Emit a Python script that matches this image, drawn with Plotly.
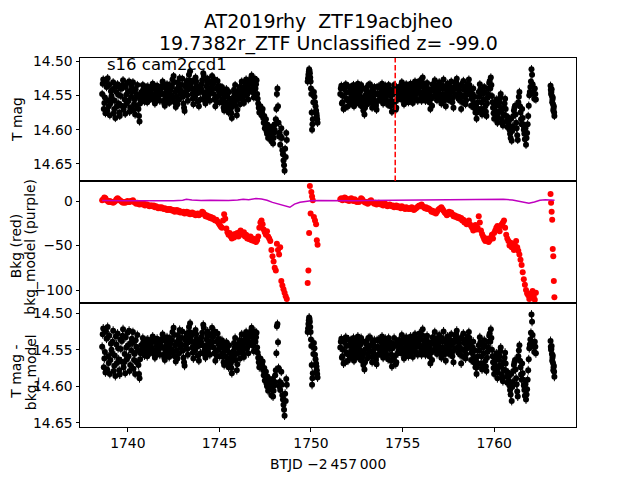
import plotly.graph_objects as go

# ---------------- data ----------------
# Orbit 1 cadences, set A (BTJD - 2457000)
T_ORB1 = [
    1738.60, 1738.66, 1738.72, 1738.78, 1738.84, 1738.90, 1738.96, 1739.02, 1739.08,
    1739.14, 1739.20, 1739.26, 1739.32, 1739.38, 1739.44, 1739.50, 1739.56, 1739.62,
    1739.68, 1739.74, 1739.80, 1739.86, 1739.92, 1739.98, 1740.04, 1740.10, 1740.16,
    1740.22, 1740.28, 1740.34, 1740.40, 1740.46, 1740.52, 1740.58, 1740.64, 1740.70,
    1740.76, 1740.82, 1740.88, 1740.94, 1741.00, 1741.06, 1741.12, 1741.18, 1741.24,
    1741.30, 1741.36, 1741.42, 1741.48, 1741.54, 1741.60, 1741.66, 1741.72, 1741.78,
    1741.84, 1741.90, 1741.96, 1742.02, 1742.08, 1742.14, 1742.20, 1742.26, 1742.32,
    1742.38, 1742.44, 1742.50, 1742.56, 1742.62, 1742.68, 1742.74, 1742.80, 1742.86,
    1742.92, 1742.98, 1743.04, 1743.10, 1743.16, 1743.22, 1743.28, 1743.34, 1743.40,
    1743.46, 1743.52, 1743.58, 1743.64, 1743.70, 1743.76, 1743.82, 1743.88, 1743.94,
    1744.00, 1744.06, 1744.12, 1744.18, 1744.24, 1744.30, 1744.36, 1744.42, 1744.48,
    1744.54, 1744.60, 1744.66, 1744.72, 1744.78, 1744.84, 1744.90, 1744.96, 1745.02,
    1745.08, 1745.14, 1745.20, 1745.26, 1745.32, 1745.38, 1745.44, 1745.50, 1745.56,
    1745.62, 1745.68, 1745.74, 1745.80, 1745.86, 1745.92, 1745.98, 1746.04, 1746.10,
    1746.16, 1746.22, 1746.28, 1746.34, 1746.40, 1746.46, 1746.52, 1746.58, 1746.64,
    1746.70, 1746.76, 1746.82, 1746.88, 1746.94, 1747.00, 1747.06, 1747.12, 1747.18,
    1747.24, 1747.30, 1747.36, 1747.42, 1747.48, 1747.54, 1747.60, 1747.66, 1747.72,
    1747.78, 1747.84, 1747.90, 1747.96, 1748.02, 1748.08, 1748.14, 1748.20, 1748.26,
    1748.32, 1748.38, 1748.44, 1748.50, 1748.56, 1748.62, 1748.68,
]
MAG_ORB1 = [
    14.548, 14.527, 14.561, 14.576, 14.538, 14.525, 14.566, 14.579, 14.544,
    14.556, 14.531, 14.570, 14.583, 14.545, 14.534, 14.562, 14.580, 14.551,
    14.540, 14.528, 14.566, 14.577, 14.549, 14.532, 14.558, 14.574, 14.543,
    14.537, 14.531, 14.563, 14.578, 14.548, 14.535, 14.570, 14.588, 14.556,
    14.545, 14.535, 14.556, 14.550, 14.538, 14.560, 14.547, 14.541, 14.553,
    14.548, 14.533, 14.557, 14.562, 14.540, 14.536, 14.555, 14.549, 14.544,
    14.539, 14.530, 14.558, 14.565, 14.546, 14.534, 14.552, 14.561, 14.543,
    14.550, 14.527, 14.522, 14.560, 14.567, 14.541, 14.531, 14.556, 14.548,
    14.545, 14.526, 14.562, 14.573, 14.538, 14.529, 14.558, 14.520, 14.515,
    14.532, 14.548, 14.563, 14.541, 14.524, 14.536, 14.559, 14.566, 14.545,
    14.540, 14.528, 14.518, 14.552, 14.562, 14.537, 14.526, 14.549, 14.558,
    14.545, 14.522, 14.533, 14.556, 14.566, 14.540, 14.529, 14.551, 14.560,
    14.548, 14.538, 14.561, 14.572, 14.552, 14.541, 14.566, 14.575, 14.555,
    14.570, 14.583, 14.560, 14.542, 14.535, 14.557, 14.571, 14.549, 14.538,
    14.544, 14.530, 14.552, 14.561, 14.537, 14.527, 14.548, 14.556, 14.533,
    14.529, 14.521, 14.540, 14.553, 14.526, 14.534, 14.548, 14.562, 14.575,
    14.566, 14.579, 14.570, 14.590, 14.598, 14.585, 14.606, 14.612, 14.596,
    14.603, 14.617, 14.595, 14.612, 14.600, 14.585, 14.548, 14.566, 14.610,
    14.622, 14.598, 14.630, 14.645, 14.660, 14.640, 14.615,
]
BKG_ORB1 = [
    1, 2, 4, 3, 1, 0, -1, 0, -1,
    -1, -2, -1, 0, 2, 3, 2, 1, 0,
    -1, -2, -1, -2, -1, 0, -1, -1, 0,
    0, 1, -1, -2, -3, -2, -3, -4, -3,
    -3, -4, -3, -5, -4, -4, -5, -6, -5,
    -5, -6, -5, -7, -6, -7, -8, -7, -8,
    -7, -8, -9, -8, -9, -10, -9, -10, -9,
    -10, -11, -10, -12, -11, -10, -12, -11, -13,
    -12, -13, -12, -14, -13, -12, -14, -13, -15,
    -14, -13, -15, -14, -16, -15, -14, -16, -15,
    -14, -12, -13, -15, -17, -16, -18, -17, -19,
    -18, -20, -19, -21, -22, -21, -23, -25, -27,
    -29, -30, -22, -15, -20, -31, -35, -38, -36,
    -40, -42, -38, -41, -37, -39, -36, -40, -35,
    -33, -36, -38, -35, -40, -38, -42, -40, -43,
    -40, -44, -42, -45, -43, -46, -44, -40, -30,
    -24, -22, -26, -32, -35, -38, -34, -40, -42,
    -45, -55, -62, -68, -75, -78, -48, -55, -60,
    -52, -90, -95, -99, -103, -107, -110,
]
MAGC_ORB1 = [
    14.546, 14.521, 14.562, 14.581, 14.535, 14.519, 14.568, 14.583, 14.542,
    14.555, 14.524, 14.572, 14.586, 14.543, 14.528, 14.563, 14.584, 14.549,
    14.538, 14.522, 14.567, 14.582, 14.547, 14.527, 14.559, 14.579, 14.541,
    14.535, 14.526, 14.564, 14.583, 14.546, 14.530, 14.571, 14.589, 14.555,
    14.544, 14.534, 14.555, 14.549, 14.537, 14.559, 14.546, 14.540, 14.552,
    14.547, 14.532, 14.556, 14.561, 14.539, 14.535, 14.554, 14.548, 14.543,
    14.538, 14.529, 14.557, 14.564, 14.545, 14.533, 14.551, 14.560, 14.542,
    14.549, 14.526, 14.520, 14.559, 14.566, 14.540, 14.530, 14.555, 14.547,
    14.544, 14.525, 14.561, 14.572, 14.537, 14.528, 14.557, 14.519, 14.514,
    14.531, 14.547, 14.562, 14.540, 14.523, 14.535, 14.558, 14.565, 14.544,
    14.539, 14.527, 14.516, 14.551, 14.561, 14.536, 14.525, 14.548, 14.557,
    14.544, 14.520, 14.532, 14.555, 14.565, 14.539, 14.528, 14.550, 14.559,
    14.547, 14.537, 14.560, 14.571, 14.551, 14.540, 14.565, 14.574, 14.554,
    14.569, 14.582, 14.559, 14.541, 14.534, 14.556, 14.570, 14.548, 14.537,
    14.543, 14.529, 14.551, 14.560, 14.536, 14.526, 14.547, 14.555, 14.532,
    14.528, 14.520, 14.539, 14.552, 14.525, 14.533, 14.547, 14.561, 14.574,
    14.562, 14.574, 14.566, 14.585, 14.592, 14.580, 14.600, 14.606, 14.590,
    14.597, 14.612, 14.590, 14.606, 14.594, 14.578, 14.518, 14.540, 14.600,
    14.605, 14.580, 14.612, 14.625, 14.640, 14.620, 14.598,
]

# Orbit 1 cadences, set B (interleaved with set A)
T_ORB1_B = [
    1738.63, 1738.69, 1738.75, 1738.81, 1738.87, 1738.93, 1738.99, 1739.05, 1739.11,
    1739.17, 1739.23, 1739.29, 1739.35, 1739.41, 1739.47, 1739.53, 1739.59, 1739.65,
    1739.71, 1739.77, 1739.83, 1739.89, 1739.95, 1740.01, 1740.07, 1740.13, 1740.19,
    1740.25, 1740.31, 1740.37, 1740.43, 1740.49, 1740.55, 1740.61, 1740.67, 1740.73,
    1740.79, 1740.85, 1740.91, 1740.97, 1741.03, 1741.09, 1741.15, 1741.21, 1741.27,
    1741.33, 1741.39, 1741.45, 1741.51, 1741.57, 1741.63, 1741.69, 1741.75, 1741.81,
    1741.87, 1741.93, 1741.99, 1742.05, 1742.11, 1742.17, 1742.23, 1742.29, 1742.35,
    1742.41, 1742.47, 1742.53, 1742.59, 1742.65, 1742.71, 1742.77, 1742.83, 1742.89,
    1742.95, 1743.01, 1743.07, 1743.13, 1743.19, 1743.25, 1743.31, 1743.37, 1743.43,
    1743.49, 1743.55, 1743.61, 1743.67, 1743.73, 1743.79, 1743.85, 1743.91, 1743.97,
    1744.03, 1744.09, 1744.15, 1744.21, 1744.27, 1744.33, 1744.39, 1744.45, 1744.51,
    1744.57, 1744.63, 1744.69, 1744.75, 1744.81, 1744.87, 1744.93, 1744.99, 1745.05,
    1745.11, 1745.17, 1745.23, 1745.29, 1745.35, 1745.41, 1745.47, 1745.53, 1745.59,
    1745.65, 1745.71, 1745.77, 1745.83, 1745.89, 1745.95, 1746.01, 1746.07, 1746.13,
    1746.19, 1746.25, 1746.31, 1746.37, 1746.43, 1746.49, 1746.55, 1746.61, 1746.67,
    1746.73, 1746.79, 1746.85, 1746.91, 1746.97, 1747.03, 1747.09, 1747.15, 1747.21,
    1747.27, 1747.33, 1747.39, 1747.45, 1747.51, 1747.57, 1747.63, 1747.69, 1747.75,
    1747.81, 1747.87, 1747.93, 1747.99, 1748.05, 1748.11, 1748.17, 1748.23, 1748.29,
    1748.35, 1748.41, 1748.47, 1748.53, 1748.59, 1748.65,
]
MAG_ORB1_B = [
    14.533, 14.570, 14.553, 14.530, 14.572, 14.558, 14.535, 14.562, 14.551,
    14.542, 14.576, 14.558, 14.537, 14.566, 14.549, 14.575, 14.540, 14.565,
    14.535, 14.571, 14.556, 14.538, 14.562, 14.545, 14.530, 14.568, 14.552,
    14.544, 14.572, 14.556, 14.541, 14.566, 14.552, 14.580, 14.562, 14.546,
    14.550, 14.541, 14.559, 14.544, 14.553, 14.537, 14.557, 14.549, 14.539,
    14.541, 14.552, 14.536, 14.559, 14.546, 14.551, 14.542, 14.558, 14.537,
    14.548, 14.536, 14.562, 14.551, 14.540, 14.557, 14.546, 14.535, 14.555,
    14.538, 14.555, 14.531, 14.545, 14.552, 14.563, 14.537, 14.525, 14.543,
    14.535, 14.552, 14.568, 14.545, 14.533, 14.550, 14.541, 14.528, 14.537,
    14.540, 14.555, 14.528, 14.552, 14.530, 14.547, 14.543, 14.537, 14.556,
    14.534, 14.545, 14.522, 14.558, 14.545, 14.531, 14.555, 14.540, 14.532,
    14.530, 14.540, 14.548, 14.527, 14.553, 14.560, 14.536, 14.545, 14.538,
    14.543, 14.556, 14.568, 14.546, 14.560, 14.550, 14.571, 14.545, 14.562,
    14.576, 14.566, 14.553, 14.548, 14.565, 14.579, 14.544, 14.555, 14.563,
    14.538, 14.546, 14.557, 14.542, 14.532, 14.550, 14.539, 14.545, 14.541,
    14.525, 14.533, 14.546, 14.530, 14.540, 14.528, 14.555, 14.568, 14.570,
    14.572, 14.575, 14.583, 14.580, 14.592, 14.602, 14.593, 14.600, 14.605,
    14.608, 14.600, 14.620, 14.605, 14.592, 14.570, 14.540, 14.590, 14.604,
    14.610, 14.612, 14.636, 14.652, 14.628, 14.605,
]
MAGC_ORB1_B = [
    14.529, 14.574, 14.553, 14.525, 14.577, 14.559, 14.531, 14.564, 14.550,
    14.539, 14.579, 14.558, 14.532, 14.568, 14.548, 14.578, 14.536, 14.566,
    14.531, 14.574, 14.556, 14.533, 14.563, 14.544, 14.524, 14.571, 14.551,
    14.541, 14.576, 14.556, 14.537, 14.567, 14.551, 14.583, 14.563, 14.544,
    14.549, 14.540, 14.558, 14.543, 14.552, 14.536, 14.556, 14.548, 14.538,
    14.540, 14.551, 14.535, 14.558, 14.545, 14.550, 14.541, 14.557, 14.536,
    14.547, 14.535, 14.561, 14.550, 14.539, 14.556, 14.545, 14.534, 14.554,
    14.537, 14.554, 14.530, 14.544, 14.551, 14.562, 14.536, 14.523, 14.542,
    14.534, 14.551, 14.567, 14.544, 14.532, 14.549, 14.540, 14.526, 14.536,
    14.539, 14.554, 14.527, 14.551, 14.529, 14.546, 14.542, 14.536, 14.555,
    14.533, 14.544, 14.520, 14.557, 14.544, 14.530, 14.554, 14.539, 14.531,
    14.529, 14.539, 14.547, 14.525, 14.552, 14.559, 14.535, 14.544, 14.537,
    14.542, 14.555, 14.567, 14.545, 14.559, 14.549, 14.570, 14.544, 14.561,
    14.575, 14.565, 14.552, 14.547, 14.564, 14.578, 14.543, 14.554, 14.562,
    14.537, 14.545, 14.556, 14.541, 14.531, 14.549, 14.538, 14.544, 14.540,
    14.524, 14.532, 14.545, 14.529, 14.539, 14.527, 14.554, 14.567, 14.569,
    14.567, 14.570, 14.578, 14.575, 14.586, 14.596, 14.587, 14.594, 14.599,
    14.602, 14.594, 14.614, 14.599, 14.585, 14.555, 14.515, 14.575, 14.594,
    14.595, 14.598, 14.618, 14.632, 14.610, 14.590,
]

# Short stretch between the orbits
T_GAP = [1749.82, 1749.86, 1749.90, 1749.94, 1749.98, 1750.02, 1750.06,
         1750.10, 1750.16, 1750.22, 1750.28, 1750.32, 1750.36]
MAG_GAP = [14.530, 14.520, 14.512, 14.518, 14.530, 14.548, 14.600,
           14.585, 14.545, 14.560, 14.572, 14.580, 14.590]
BKG_GAP = [-92, -78, -36, 17, -14, 10, 5, 1, -18, -22, -26, -44, -49]
MAGC_GAP = [14.526, 14.515, 14.506, 14.512, 14.526, 14.545, 14.598,
            14.582, 14.541, 14.557, 14.569, 14.578, 14.588]
T_GAP_B = [1749.84, 1749.88, 1749.92, 1749.96, 1750.00, 1750.04, 1750.08,
           1750.13, 1750.19, 1750.25, 1750.30, 1750.34]
MAG_GAP_B = [14.525, 14.516, 14.514, 14.524, 14.540, 14.575, 14.592,
             14.560, 14.552, 14.566, 14.576, 14.585]
MAGC_GAP_B = [14.521, 14.510, 14.508, 14.519, 14.536, 14.571, 14.589,
              14.556, 14.548, 14.563, 14.573, 14.583]

# Orbit 2 cadences, set A
T_ORB2 = [
    1751.60, 1751.66, 1751.72, 1751.78, 1751.84, 1751.90, 1751.96, 1752.02, 1752.08,
    1752.14, 1752.20, 1752.26, 1752.32, 1752.38, 1752.44, 1752.50, 1752.56, 1752.62,
    1752.68, 1752.74, 1752.80, 1752.86, 1752.92, 1752.98, 1753.04, 1753.10, 1753.16,
    1753.22, 1753.28, 1753.34, 1753.40, 1753.46, 1753.52, 1753.58, 1753.64, 1753.70,
    1753.76, 1753.82, 1753.88, 1753.94, 1754.00, 1754.06, 1754.12, 1754.18, 1754.24,
    1754.30, 1754.36, 1754.42, 1754.48, 1754.54, 1754.60, 1754.66, 1754.72, 1754.78,
    1754.84, 1754.90, 1754.96, 1755.02, 1755.08, 1755.14, 1755.20, 1755.26, 1755.32,
    1755.38, 1755.44, 1755.50, 1755.56, 1755.62, 1755.68, 1755.74, 1755.80, 1755.86,
    1755.92, 1755.98, 1756.04, 1756.10, 1756.16, 1756.22, 1756.28, 1756.34, 1756.40,
    1756.46, 1756.52, 1756.58, 1756.64, 1756.70, 1756.76, 1756.82, 1756.88, 1756.94,
    1757.00, 1757.06, 1757.12, 1757.18, 1757.24, 1757.30, 1757.36, 1757.42, 1757.48,
    1757.54, 1757.60, 1757.66, 1757.72, 1757.78, 1757.84, 1757.90, 1757.96, 1758.02,
    1758.08, 1758.14, 1758.20, 1758.26, 1758.32, 1758.38, 1758.44, 1758.50, 1758.56,
    1758.62, 1758.68, 1758.74, 1758.80, 1758.86, 1758.92, 1758.98, 1759.04, 1759.10,
    1759.16, 1759.22, 1759.28, 1759.34, 1759.40, 1759.46, 1759.52, 1759.58, 1759.64,
    1759.70, 1759.76, 1759.82, 1759.88, 1759.94, 1760.00, 1760.06, 1760.12, 1760.18,
    1760.24, 1760.30, 1760.36, 1760.42, 1760.48, 1760.54, 1760.60, 1760.66, 1760.72,
    1760.78, 1760.84, 1760.90, 1760.96, 1761.02, 1761.08, 1761.14, 1761.20, 1761.26,
    1761.32, 1761.38, 1761.44, 1761.50, 1761.56, 1761.62, 1761.68, 1761.74, 1761.80,
    1761.86, 1761.92, 1761.98, 1762.04, 1762.10, 1762.16, 1762.22, 1762.28,
]
MAG_ORB2 = [
    14.548, 14.536, 14.560, 14.570, 14.541, 14.534, 14.555, 14.566, 14.545,
    14.538, 14.552, 14.563, 14.535, 14.547, 14.559, 14.542, 14.533, 14.556,
    14.545, 14.535, 14.561, 14.572, 14.578, 14.550, 14.539, 14.557, 14.548,
    14.534, 14.553, 14.568, 14.544, 14.538, 14.560, 14.571, 14.547, 14.537,
    14.556, 14.540, 14.533, 14.562, 14.549, 14.536, 14.558, 14.545, 14.535,
    14.550, 14.566, 14.574, 14.543, 14.535, 14.559, 14.568, 14.540, 14.552,
    14.538, 14.548, 14.531, 14.556, 14.563, 14.541, 14.534, 14.552, 14.560,
    14.545, 14.533, 14.550, 14.561, 14.540, 14.530, 14.555, 14.547, 14.536,
    14.529, 14.546, 14.558, 14.524, 14.538, 14.553, 14.543, 14.532, 14.549,
    14.560, 14.570, 14.541, 14.534, 14.552, 14.528, 14.545, 14.557, 14.537,
    14.531, 14.549, 14.562, 14.540, 14.527, 14.554, 14.566, 14.543, 14.535,
    14.557, 14.546, 14.530, 14.560, 14.568, 14.538, 14.533, 14.526, 14.548,
    14.542, 14.558, 14.570, 14.536, 14.529, 14.552, 14.563, 14.544, 14.533,
    14.527, 14.548, 14.565, 14.555, 14.540, 14.562, 14.575, 14.584, 14.560,
    14.545, 14.534, 14.570, 14.578, 14.548, 14.538, 14.566, 14.580, 14.554,
    14.540, 14.529, 14.524, 14.551, 14.568, 14.584, 14.572, 14.556, 14.590,
    14.575, 14.560, 14.548, 14.585, 14.594, 14.568, 14.555, 14.580, 14.596,
    14.588, 14.600, 14.612, 14.616, 14.595, 14.572, 14.565, 14.590, 14.608,
    14.560, 14.545, 14.575, 14.592, 14.583, 14.600, 14.614, 14.622, 14.605,
    14.580, 14.550, 14.538, 14.512, 14.534, 14.548, 14.540, 14.556,
]
BKG_ORB2 = [
    2, 3, 1, 2, 4, 3, 1, 2, 0,
    2, 3, 1, 0, 2, 1, -1, 0, -1,
    1, 3, 2, 0, -1, -2, -1, -3, -2,
    0, 1, -1, -2, -3, -2, -4, -3, -2,
    -3, -4, -3, -5, -4, -3, -5, -6, -5,
    -4, -5, -6, -5, -7, -6, -5, -7, -6,
    -7, -8, -6, -7, -8, -9, -7, -8, -9,
    -8, -9, -7, -8, -10, -9, -8, -7, -6,
    -5, -6, -4, -6, -7, -8, -7, -9, -8,
    -9, -10, -12, -11, -13, -12, -14, -12, -10,
    -9, -8, -7, -9, -11, -13, -14, -16, -15,
    -12, -14, -13, -15, -17, -16, -18, -17, -19,
    -18, -20, -19, -22, -21, -24, -23, -26, -25,
    -22, -26, -28, -30, -33, -29, -27, -32, -30,
    -17, -24, -33, -37, -40, -43, -45, -42, -44,
    -46, -44, -41, -38, -42, -36, -33, -30, -28,
    -30, -34, -28, -26, -24, -22, -30, -38, -42,
    -45, -50, -47, -52, -48, -55, -50, -45, -52,
    -56, -60, -66, -72, -80, -88, -94, -100, -104,
    -106, -110, -104, -108, -101, -107, -111, -103,
]
MAGC_ORB2 = [
    14.547, 14.535, 14.559, 14.569, 14.540, 14.533, 14.554, 14.565, 14.544,
    14.537, 14.551, 14.562, 14.534, 14.546, 14.558, 14.541, 14.532, 14.555,
    14.544, 14.534, 14.560, 14.571, 14.577, 14.549, 14.538, 14.556, 14.547,
    14.533, 14.552, 14.567, 14.543, 14.537, 14.559, 14.570, 14.546, 14.536,
    14.555, 14.539, 14.532, 14.561, 14.548, 14.535, 14.557, 14.544, 14.534,
    14.549, 14.565, 14.573, 14.542, 14.534, 14.558, 14.567, 14.539, 14.551,
    14.537, 14.547, 14.530, 14.555, 14.562, 14.540, 14.533, 14.551, 14.559,
    14.544, 14.532, 14.549, 14.560, 14.539, 14.529, 14.554, 14.546, 14.535,
    14.528, 14.545, 14.557, 14.522, 14.537, 14.552, 14.542, 14.531, 14.548,
    14.559, 14.569, 14.540, 14.533, 14.551, 14.526, 14.544, 14.556, 14.536,
    14.530, 14.548, 14.561, 14.539, 14.525, 14.553, 14.565, 14.542, 14.534,
    14.556, 14.545, 14.529, 14.559, 14.567, 14.537, 14.532, 14.524, 14.547,
    14.541, 14.557, 14.569, 14.535, 14.528, 14.551, 14.562, 14.543, 14.532,
    14.526, 14.547, 14.564, 14.554, 14.539, 14.561, 14.574, 14.583, 14.559,
    14.544, 14.533, 14.569, 14.577, 14.547, 14.537, 14.565, 14.579, 14.553,
    14.539, 14.528, 14.522, 14.550, 14.567, 14.583, 14.571, 14.555, 14.589,
    14.574, 14.559, 14.547, 14.584, 14.593, 14.567, 14.554, 14.579, 14.595,
    14.587, 14.599, 14.611, 14.620, 14.594, 14.571, 14.564, 14.589, 14.607,
    14.559, 14.544, 14.574, 14.591, 14.582, 14.599, 14.613, 14.618, 14.604,
    14.578, 14.548, 14.536, 14.502, 14.530, 14.546, 14.539, 14.555,
]

# Orbit 2 cadences, set B
T_ORB2_B = [
    1751.63, 1751.69, 1751.75, 1751.81, 1751.87, 1751.93, 1751.99, 1752.05, 1752.11,
    1752.17, 1752.23, 1752.29, 1752.35, 1752.41, 1752.47, 1752.53, 1752.59, 1752.65,
    1752.71, 1752.77, 1752.83, 1752.89, 1752.95, 1753.01, 1753.07, 1753.13, 1753.19,
    1753.25, 1753.31, 1753.37, 1753.43, 1753.49, 1753.55, 1753.61, 1753.67, 1753.73,
    1753.79, 1753.85, 1753.91, 1753.97, 1754.03, 1754.09, 1754.15, 1754.21, 1754.27,
    1754.33, 1754.39, 1754.45, 1754.51, 1754.57, 1754.63, 1754.69, 1754.75, 1754.81,
    1754.87, 1754.93, 1754.99, 1755.05, 1755.11, 1755.17, 1755.23, 1755.29, 1755.35,
    1755.41, 1755.47, 1755.53, 1755.59, 1755.65, 1755.71, 1755.77, 1755.83, 1755.89,
    1755.95, 1756.01, 1756.07, 1756.13, 1756.19, 1756.25, 1756.31, 1756.37, 1756.43,
    1756.49, 1756.55, 1756.61, 1756.67, 1756.73, 1756.79, 1756.85, 1756.91, 1756.97,
    1757.03, 1757.09, 1757.15, 1757.21, 1757.27, 1757.33, 1757.39, 1757.45, 1757.51,
    1757.57, 1757.63, 1757.69, 1757.75, 1757.81, 1757.87, 1757.93, 1757.99, 1758.05,
    1758.11, 1758.17, 1758.23, 1758.29, 1758.35, 1758.41, 1758.47, 1758.53, 1758.59,
    1758.65, 1758.71, 1758.77, 1758.83, 1758.89, 1758.95, 1759.01, 1759.07, 1759.13,
    1759.19, 1759.25, 1759.31, 1759.37, 1759.43, 1759.49, 1759.55, 1759.61, 1759.67,
    1759.73, 1759.79, 1759.85, 1759.91, 1759.97, 1760.03, 1760.09, 1760.15, 1760.21,
    1760.27, 1760.33, 1760.39, 1760.45, 1760.51, 1760.57, 1760.63, 1760.69, 1760.75,
    1760.81, 1760.87, 1760.93, 1760.99, 1761.05, 1761.11, 1761.17, 1761.23, 1761.29,
    1761.35, 1761.41, 1761.47, 1761.53, 1761.59, 1761.65, 1761.71, 1761.77, 1761.83,
    1761.89, 1761.95, 1762.01, 1762.07, 1762.13, 1762.19, 1762.25,
]
MAG_ORB2_B = [
    14.540, 14.562, 14.551, 14.538, 14.568, 14.546, 14.557, 14.537, 14.560,
    14.545, 14.558, 14.541, 14.566, 14.554, 14.538, 14.550, 14.562, 14.540,
    14.552, 14.566, 14.540, 14.556, 14.568, 14.543, 14.563, 14.535, 14.553,
    14.545, 14.561, 14.540, 14.556, 14.549, 14.565, 14.538, 14.558, 14.550,
    14.548, 14.558, 14.543, 14.552, 14.540, 14.555, 14.548, 14.564, 14.542,
    14.541, 14.558, 14.549, 14.562, 14.546, 14.571, 14.545, 14.556, 14.538,
    14.544, 14.556, 14.540, 14.549, 14.537, 14.558, 14.545, 14.541, 14.550,
    14.539, 14.555, 14.544, 14.535, 14.550, 14.542, 14.537, 14.558, 14.543,
    14.537, 14.552, 14.531, 14.548, 14.543, 14.558, 14.535, 14.555, 14.541,
    14.548, 14.555, 14.565, 14.543, 14.535, 14.550, 14.538, 14.551, 14.545,
    14.540, 14.556, 14.535, 14.548, 14.558, 14.538, 14.550, 14.533, 14.545,
    14.552, 14.538, 14.544, 14.553, 14.541, 14.549, 14.530, 14.540, 14.555,
    14.548, 14.535, 14.550, 14.560, 14.542, 14.538, 14.557, 14.549, 14.540,
    14.535, 14.541, 14.555, 14.548, 14.568, 14.552, 14.566, 14.575, 14.570,
    14.552, 14.541, 14.560, 14.572, 14.556, 14.545, 14.574, 14.562, 14.548,
    14.532, 14.540, 14.535, 14.560, 14.576, 14.566, 14.580, 14.560, 14.582,
    14.565, 14.553, 14.572, 14.590, 14.578, 14.562, 14.570, 14.588, 14.582,
    14.594, 14.606, 14.584, 14.602, 14.580, 14.568, 14.578, 14.598, 14.615,
    14.552, 14.566, 14.585, 14.570, 14.592, 14.606, 14.598, 14.612, 14.592,
    14.565, 14.545, 14.530, 14.520, 14.545, 14.555, 14.548,
]
MAGC_ORB2_B = [
    14.539, 14.561, 14.550, 14.537, 14.567, 14.545, 14.556, 14.536, 14.559,
    14.544, 14.557, 14.540, 14.565, 14.553, 14.537, 14.549, 14.561, 14.539,
    14.551, 14.565, 14.539, 14.555, 14.567, 14.542, 14.562, 14.534, 14.552,
    14.544, 14.560, 14.539, 14.555, 14.548, 14.564, 14.537, 14.557, 14.549,
    14.547, 14.557, 14.542, 14.551, 14.539, 14.554, 14.547, 14.563, 14.541,
    14.540, 14.557, 14.548, 14.561, 14.545, 14.570, 14.544, 14.555, 14.537,
    14.543, 14.555, 14.539, 14.548, 14.536, 14.557, 14.544, 14.540, 14.549,
    14.538, 14.554, 14.543, 14.534, 14.549, 14.541, 14.536, 14.557, 14.542,
    14.536, 14.551, 14.530, 14.547, 14.542, 14.557, 14.534, 14.554, 14.540,
    14.547, 14.554, 14.564, 14.542, 14.534, 14.549, 14.537, 14.550, 14.544,
    14.539, 14.555, 14.534, 14.547, 14.557, 14.537, 14.549, 14.532, 14.544,
    14.551, 14.537, 14.543, 14.552, 14.540, 14.548, 14.529, 14.539, 14.554,
    14.547, 14.534, 14.549, 14.559, 14.541, 14.537, 14.556, 14.548, 14.539,
    14.534, 14.540, 14.554, 14.547, 14.567, 14.551, 14.565, 14.574, 14.569,
    14.551, 14.540, 14.559, 14.571, 14.555, 14.544, 14.573, 14.561, 14.547,
    14.531, 14.539, 14.534, 14.559, 14.575, 14.565, 14.579, 14.559, 14.581,
    14.564, 14.552, 14.571, 14.589, 14.577, 14.561, 14.569, 14.587, 14.581,
    14.593, 14.605, 14.583, 14.601, 14.579, 14.567, 14.577, 14.597, 14.614,
    14.551, 14.565, 14.584, 14.569, 14.591, 14.605, 14.597, 14.611, 14.591,
    14.563, 14.543, 14.527, 14.512, 14.542, 14.553, 14.546,
]

# Last few cadences at the end of the sector
T_END = [1763.08, 1763.11, 1763.14, 1763.17, 1763.20, 1763.23, 1763.26, 1763.29]
MAG_END = [14.536, 14.548, 14.541, 14.560, 14.553, 14.572, 14.566, 14.580]
BKG_END = [8, -2, -12, -21, -54, -62, -90, -108]
MAGC_END = [14.538, 14.550, 14.545, 14.565, 14.558, 14.578, 14.572, 14.587]
T_END_B = [1763.095, 1763.125, 1763.155, 1763.185, 1763.215, 1763.245, 1763.275]
MAG_END_B = [14.542, 14.545, 14.551, 14.556, 14.563, 14.569, 14.575]
MAGC_END_B = [14.546, 14.549, 14.556, 14.561, 14.568, 14.574, 14.580]

MAG_ERR = 0.006

# Background model (purple line)
T_MODEL = [1738.60, 1739.00, 1739.50, 1740.00, 1740.50, 1741.00, 1741.50, 1742.00,
           1742.50, 1743.00, 1743.20, 1743.50, 1744.00, 1744.50, 1745.00, 1745.50,
           1746.00, 1746.30, 1746.60, 1747.00, 1747.30, 1747.60, 1747.90, 1748.20,
           1748.50, 1748.85, 1749.10, 1749.40, 1749.70, 1750.00, 1750.40, 1751.00,
           1751.60, 1752.00, 1752.50, 1753.00, 1753.50, 1754.00, 1754.50, 1755.00,
           1755.50, 1756.00, 1756.50, 1757.00, 1757.50, 1758.00, 1758.50, 1759.00,
           1759.50, 1760.00, 1760.50, 1761.00, 1761.30, 1761.60, 1761.90, 1762.20,
           1762.50, 1762.80, 1763.10, 1763.30]
BKG_MODEL = [0.5, 0.3, 0.0, 0.2, 0.4, 0.2, 0.5, 0.6,
             0.4, 0.8, 2.0, 1.2, 0.6, 0.9, 0.4, 0.7,
             1.2, 2.0, 1.5, 2.8, 2.2, 0.8, -1.5, -3.0,
             -4.5, -7.0, -3.5, -1.5, -0.5, 0.3, 0.5, 0.3,
             0.5, 0.4, 0.2, 0.5, 0.6, 0.4, 0.8, 1.0,
             0.7, 1.2, 1.5, 1.0, 1.4, 1.6, 1.2, 1.8,
             1.3, 1.6, 1.9, 1.2, 0.0, -1.5, -2.5, -1.0,
             0.8, 1.5, 1.2, 1.0]

MARKER_TIME = 1754.6   # red dashed vertical line

TITLE_1 = "AT2019rhy  ZTF19acbjheo"
TITLE_2 = "19.7382r_ZTF Unclassified z= -99.0"
SECTOR_LABEL = "s16 cam2ccd1"
X_LABEL = "BTJD \u22122\u2009457\u2009000"
YLABEL_TOP = "T mag"
YLABEL_MID = ["Bkg (red)", "bkg_model (purple)"]
YLABEL_BOT = ["T mag -", "bkg_model"]
X_TICKS = [1740, 1745, 1750, 1755, 1760]
MAG_TICKS = [14.50, 14.55, 14.60, 14.65]
BKG_TICKS = [0, -50, -100]

# ---------------- assemble ----------------
T_PHOT = T_ORB1 + T_ORB1_B + T_GAP + T_GAP_B + T_ORB2 + T_ORB2_B + T_END + T_END_B
MAG_PHOT = (MAG_ORB1 + MAG_ORB1_B + MAG_GAP + MAG_GAP_B + MAG_ORB2 + MAG_ORB2_B
            + MAG_END + MAG_END_B)
MAGC_PHOT = (MAGC_ORB1 + MAGC_ORB1_B + MAGC_GAP + MAGC_GAP_B + MAGC_ORB2 + MAGC_ORB2_B
             + MAGC_END + MAGC_END_B)
T_BKG = T_ORB1 + T_GAP + T_ORB2 + T_END
BKG_ALL = BKG_ORB1 + BKG_GAP + BKG_ORB2 + BKG_END

FONT = "DejaVu Sans"
TICK_PX = 13.9

fig = go.Figure()

err = dict(type="constant", value=MAG_ERR, color="black", thickness=1, width=0)

fig.add_trace(go.Scatter(x=T_PHOT, y=MAG_PHOT, mode="markers", xaxis="x", yaxis="y",
                         marker=dict(color="black", size=6), error_y=err,
                         showlegend=False))
fig.add_trace(go.Scatter(x=T_BKG, y=BKG_ALL, mode="markers", xaxis="x2", yaxis="y2",
                         marker=dict(color="#ff0000", size=6), showlegend=False))
fig.add_trace(go.Scatter(x=T_MODEL, y=BKG_MODEL, mode="lines", xaxis="x2", yaxis="y2",
                         line=dict(color="#bf00bf", width=1.5), showlegend=False))
fig.add_trace(go.Scatter(x=T_PHOT, y=MAGC_PHOT, mode="markers", xaxis="x3", yaxis="y3",
                         marker=dict(color="black", size=6), error_y=err,
                         showlegend=False))

XRANGE = [1737.39, 1764.47]
D_BOT = [0.0, 0.336]
D_MID = [0.336, 0.6667]
D_TOP = [0.6667, 1.0]

axis_common = dict(showline=True, mirror=True, linecolor="black", linewidth=1,
                   showgrid=False, zeroline=False,
                   tickfont=dict(family=FONT, size=TICK_PX, color="black"))

# the page body has an 8 px margin, so the figure is 16 px smaller than the window
fig.update_layout(
    width=624, height=464,
    margin=dict(l=72, r=56, t=50, b=45),
    paper_bgcolor="white", plot_bgcolor="white",
    font=dict(family=FONT, color="black"),
    xaxis=dict(anchor="y", domain=[0, 1], range=XRANGE, showticklabels=False,
               ticks="", **axis_common),
    xaxis2=dict(anchor="y2", domain=[0, 1], range=XRANGE, showticklabels=False,
                ticks="", matches="x", **axis_common),
    xaxis3=dict(anchor="y3", domain=[0, 1], range=XRANGE, tickvals=X_TICKS,
                ticks="outside", ticklen=3.5, tickwidth=0.8, tickcolor="black",
                matches="x", **axis_common),
    yaxis=dict(anchor="x", domain=D_TOP, range=[14.6748, 14.4956], tickvals=MAG_TICKS,
               tickformat=".2f", ticks="outside", ticklen=3.5, tickwidth=0.8,
               tickcolor="black", **axis_common),
    yaxis2=dict(anchor="x2", domain=D_MID, range=[-114.6, 22.5], tickvals=BKG_TICKS,
                ticks="outside", ticklen=3.5, tickwidth=0.8, tickcolor="black",
                **axis_common),
    yaxis3=dict(anchor="x3", domain=D_BOT, range=[14.6555, 14.4863], tickvals=MAG_TICKS,
                tickformat=".2f", ticks="outside", ticklen=3.5, tickwidth=0.8,
                tickcolor="black", **axis_common),
)

fig.add_shape(type="line", xref="x", yref="y domain", x0=MARKER_TIME, x1=MARKER_TIME,
              y0=0, y1=1, line=dict(color="#ff0000", width=1.5, dash="5.5px,2.4px"),
              layer="above")

TITLE_PX = 19
ann = []
ann.append(dict(text=TITLE_1, xref="paper", yref="paper", x=0.5, y=1.1003,
                xanchor="center", yanchor="middle", showarrow=False,
                font=dict(family=FONT, size=TITLE_PX, color="black")))
ann.append(dict(text=TITLE_2, xref="paper", yref="paper", x=0.5, y=1.0380,
                xanchor="center", yanchor="middle", showarrow=False,
                font=dict(family=FONT, size=TITLE_PX, color="black")))
ann.append(dict(text=SECTOR_LABEL, xref="paper", yref="paper", x=0.0504, y=0.9837,
                xanchor="left", yanchor="middle", showarrow=False,
                font=dict(family=FONT, size=16.5, color="black")))
ann.append(dict(text=X_LABEL, xref="paper", yref="paper", x=0.5, y=-0.1003,
                xanchor="center", yanchor="middle", showarrow=False,
                font=dict(family=FONT, size=TICK_PX, color="black")))
ann.append(dict(text=YLABEL_TOP, xref="paper", yref="paper", x=-0.127, y=0.832,
                xanchor="center", yanchor="middle", textangle=-90, showarrow=False,
                font=dict(family=FONT, size=TICK_PX, color="black")))
for i, line_text in enumerate(YLABEL_MID):
    ann.append(dict(text=line_text, xref="paper", yref="paper",
                    x=-0.129 + 0.0292 * i, y=0.49, xanchor="center", yanchor="middle",
                    textangle=-90, showarrow=False,
                    font=dict(family=FONT, size=TICK_PX, color="black")))
for i, line_text in enumerate(YLABEL_BOT):
    ann.append(dict(text=line_text, xref="paper", yref="paper",
                    x=-0.129 + 0.0292 * i, y=0.15, xanchor="center", yanchor="middle",
                    textangle=-90, showarrow=False,
                    font=dict(family=FONT, size=TICK_PX, color="black")))
fig.update_layout(annotations=ann)

fig.write_html("out.html")
